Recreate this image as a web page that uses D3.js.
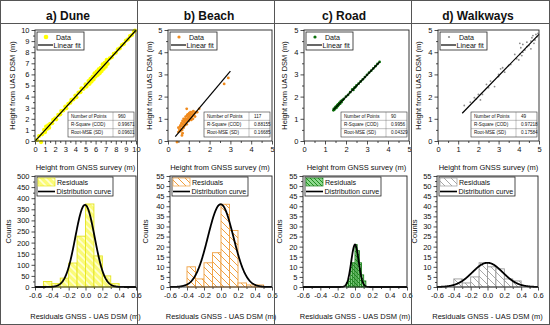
<!DOCTYPE html>
<html><head><meta charset="utf-8">
<script src="https://cdn.jsdelivr.net/npm/d3@7"></script>
<style>
body{margin:0;background:#fff}
svg{display:block}
text{font-family:Arial,"Liberation Sans",sans-serif;fill:#111}
</style>
</head><body>
<svg id="c" width="550" height="325"></svg>
<script>
// ---------------- DATA ----------------
const panelTitles = ["a) Dune", "b) Beach", "c) Road", "d) Walkways"];

const pointsDune = [[0.2,0.1],[0.4,0.45],[0.6,-0.1],[0.7,0.6],[0.9,1.0],[1.0,0.8],[1.1,1.3],[1.2,1.1],[1.3,1.4],[1.4,1.2],[1.5,1.55],[1.7,1.6],[1.8,1.9],[2.0,2.05],[2.1,1.95],[2.3,2.35],[2.5,2.4],[2.6,2.7],[2.8,2.75],[3.0,3.1],[3.1,2.95],[3.3,3.35],[3.5,3.45],[3.6,3.7],[3.8,3.75],[4.0,4.1],[4.1,3.95],[4.3,4.35],[4.5,4.4],[4.6,4.75],[4.8,4.7],[5.0,5.1],[5.1,4.9],[5.3,5.4],[5.4,5.15],[5.5,5.6],[5.6,5.35],[5.7,5.8],[5.8,5.55],[5.9,6.1],[6.0,5.8],[6.1,6.25],[6.2,5.95],[6.3,6.45],[6.4,6.1],[6.5,6.6],[6.6,6.3],[6.7,6.9],[6.8,6.5],[6.9,7.05],[7.0,6.7],[7.1,7.3],[7.2,6.95],[7.4,7.45],[7.6,7.55],[7.8,7.85],[8.0,7.95],[8.2,8.25],[8.4,8.35],[8.6,8.65],[8.8,8.75],[9.0,9.05],[9.2,9.15],[9.4,9.45],[9.6,9.55],[9.8,9.85],[9.9,9.95]];
const pointsBeach = [[0.5,0.6],[0.55,0.5],[0.6,0.7],[0.62,0.55],[0.65,0.8],[0.7,0.65],[0.7,0.9],[0.72,0.75],[0.75,0.6],[0.78,0.85],[0.8,0.95],[0.8,0.7],[0.82,1.0],[0.85,0.8],[0.85,1.1],[0.88,0.9],[0.9,1.0],[0.9,0.75],[0.92,1.15],[0.95,0.95],[0.95,1.2],[0.98,1.05],[1.0,0.9],[1.0,1.1],[1.02,1.25],[1.05,1.0],[1.05,1.15],[1.08,1.3],[1.1,1.05],[1.1,1.2],[1.12,0.95],[1.15,1.1],[1.15,1.3],[1.2,1.2],[1.2,1.0],[1.22,1.35],[1.25,1.15],[1.28,1.25],[1.3,1.1],[1.32,1.3],[0.6,0.45],[0.68,0.5],[0.75,1.0],[0.5,0.4],[0.58,0.65],[0.9,1.45],[0.67,0.25],[0.7,0.35],[0.43,-0.05],[2.7,2.57],[2.9,2.84],[1.4,1.3],[1.5,1.45]];
const pointsRoad = [[1.4,1.38],[1.42,1.45],[1.45,1.42],[1.48,1.5],[1.5,1.47],[1.52,1.55],[1.55,1.5],[1.58,1.6],[1.6,1.57],[1.62,1.65],[1.65,1.62],[1.68,1.7],[1.7,1.72],[1.72,1.68],[1.75,1.78],[1.78,1.75],[1.8,1.82],[1.85,1.85],[1.9,1.9],[2.0,2.0],[2.1,2.08],[2.2,2.2],[2.3,2.32],[2.35,2.3],[2.4,2.4],[2.45,2.43],[2.5,2.5],[2.6,2.58],[2.7,2.68],[2.8,2.78],[2.9,2.88],[3.0,2.98],[3.1,3.08],[3.2,3.17],[3.3,3.27],[3.4,3.37],[3.5,3.47],[3.6,3.56]];
const pointsWalkways = [[1.3,1.6],[1.6,1.75],[1.9,1.9],[2.1,1.85],[2.2,2.1],[2.5,2.4],[2.6,2.7],[2.8,2.45],[3.0,3.0],[3.1,3.25],[3.2,3.3],[3.3,3.1],[3.5,3.4],[3.6,3.45],[3.9,3.7],[4.0,3.65],[4.05,4.4],[4.1,4.2],[4.15,3.85],[4.2,4.0],[4.3,4.1],[4.4,4.25],[4.5,4.3],[4.6,4.5],[4.7,4.75],[4.75,4.4],[4.8,4.55],[4.85,4.8],[4.9,4.7],[4.95,4.85],[4.6,4.15],[4.4,4.45],[3.0,2.9],[2.4,2.55],[1.8,1.95],[2.0,2.1],[3.8,3.9],[4.2,4.35],[4.65,4.65],[4.05,3.9]];

const fitSlope = [1.0, 1.113, 0.98, 0.934];
const fitIntercept = [-0.02, -0.19, 0.03, 0.13];
const fitXRange = [[0.05, 10], [0.35, 3.0], [1.4, 3.6], [1.2, 5.0]];

const statLabels = ["Number of Points", "R-Square (COD)", "Root-MSE (SD)"];
const nPoints = ["960", "117", "90", "49"];
const rSquare = ["0.99671", "0.88155", "0.9956", "0.97218"];
const rootMSE = ["0.09601", "0.16685", "0.04329", "0.17584"];

const histStart = [-0.5, -0.4, -0.1, -0.4];
const histBinWidth = [0.1, 0.1, 0.025, 0.1];
const histDune = [25, 15, 40, 108, 229, 374, 140, 50, 15];
const histBeach = [10, 4, 12, 17, 41, 28, 2, 1, 1];
const histRoad = [2, 4, 12, 12, 21, 18, 12, 6, 3];
const histWalkways = [4, 2, 5, 12, 10, 9, 4, 3];

const curveMean = [-0.006, -0.004, 0.0, 0.0];
const curveSD = [0.115, 0.15, 0.043, 0.18];
const curvePeak = [370, 41, 21, 12];

const scatterTicksDune = [0,1,2,3,4,5,6,7,8,9,10];
const scatterTicksOther = [0,1,2,3,4,5];
const histXTicks = [-0.6,-0.4,-0.2,0.0,0.2,0.4,0.6];
const histXTickLabels = ["-0.6","-0.4","-0.2","0.0","0.2","0.4","0.6"];
const histYTicksDune = [0,50,100,150,200,250,300,350,400,450,500];
const histYTicksOther = [0,5,10,15,20,25,30,35,40,45,50,55];

const scatterLabelX = "Height from GNSS survey (m)";
const scatterLabelY = "Height from UAS DSM (m)";
const histLabelX = "Residuals GNSS - UAS DSM (m)";
const histLabelY = "Counts";
const legendScatter = ["Data", "Linear fit"];
const legendHist = ["Residuals", "Distribution curve"];

// ---------------- STYLE / LAYOUT ----------------
const allPoints = [pointsDune, pointsBeach, pointsRoad, pointsWalkways];
const allHist = [histDune, histBeach, histRoad, histWalkways];
const pointColor = ["#ffff00", "#f08a1c", "#0a6e0a", "#8a8a8a"];
const pointR = [2.1, 1.4, 1.4, 0.9];
const barStroke = ["#e4e420", "#f0a040", "#1f7f1f", "#9a9a9a"];
const hatchBg = ["#fbfb78", "#ffffff", "#8fd88f", "#ffffff"];
const hatchLine = ["#ffffd2", "#f0a040", "#1f8f1f", "#a8a8a8"];
const hatchSize = [7, 7, 4, 7];
const L = [
  {sx:[35,136], hx:[35,136], yt:12, ct:8, title:68},
  {sx:[168,272], hx:[170,272], yt:149, ct:145, title:209},
  {sx:[304,409], hx:[303,407], yt:284, ct:279, title:344},
  {sx:[438,539], hx:[437,538], yt:418, ct:414, title:478}
];
const sTop = 30, sBot = 141, hTop = 176, hBot = 287;
const fs = 7.5, lfs = 7.1;

const svg = d3.select("#c");
const defs = svg.append("defs");
for (let i = 0; i < 4; i++) {
  const s = hatchSize[i];
  const p = defs.append("pattern").attr("id", "h" + i)
    .attr("patternUnits", "userSpaceOnUse").attr("width", s).attr("height", s);
  p.append("rect").attr("width", s).attr("height", s).attr("fill", hatchBg[i]);
  p.append("path").attr("d", `M0,0L${s},${s}M${-s/2},${s/2}L${s/2},${s*1.5}M${s/2},${-s/2}L${s*1.5},${s/2}`)
    .attr("stroke", hatchLine[i]).attr("stroke-width", i === 0 ? 1.6 : 1);
}

function styleAxis(g) {
  g.select(".domain").remove();
  g.selectAll("line").attr("stroke", "#222").attr("stroke-width", 0.8);
  g.selectAll("text").attr("font-size", fs).attr("fill", "#111")
    .style("font-family", "Arial, 'Liberation Sans', sans-serif");
}

function midpoints(t) {
  const m = [];
  for (let k = 0; k < t.length - 1; k++) m.push((t[k] + t[k+1]) / 2);
  return m;
}

for (let i = 0; i < 4; i++) {
  const l = L[i];
  svg.append("text").attr("x", l.title).attr("y", 20).attr("text-anchor", "middle")
    .attr("font-size", 12).attr("font-weight", "bold").attr("fill", "#000").text(panelTitles[i]);

  // ---- scatter ----
  const sTicks = i === 0 ? scatterTicksDune : scatterTicksOther;
  const dom = [sTicks[0], sTicks[sTicks.length - 1]];
  const x = d3.scaleLinear().domain(dom).range(l.sx);
  const y = d3.scaleLinear().domain(dom).range([sBot, sTop]);
  const gS = svg.append("g");

  gS.append("g").attr("transform", `translate(0,${sBot})`)
    .call(d3.axisBottom(x).tickValues(midpoints(sTicks)).tickSize(2).tickFormat("")).call(styleAxis);
  gS.append("g").attr("transform", `translate(0,${sBot})`)
    .call(d3.axisBottom(x).tickValues(sTicks).tickSize(3.5).tickPadding(2).tickFormat(d3.format("d"))).call(styleAxis);
  gS.append("g").attr("transform", `translate(${l.sx[0]},0)`)
    .call(d3.axisLeft(y).tickValues(midpoints(sTicks)).tickSize(2).tickFormat("")).call(styleAxis);
  gS.append("g").attr("transform", `translate(${l.sx[0]},0)`)
    .call(d3.axisLeft(y).tickValues(sTicks).tickSize(3.5).tickPadding(2).tickFormat(d3.format("d"))).call(styleAxis);

  gS.append("g").selectAll("circle").data(allPoints[i]).join("circle")
    .attr("cx", d => x(d[0])).attr("cy", d => y(d[1])).attr("r", pointR[i])
    .attr("fill", pointColor[i]);

  const fx = fitXRange[i];
  gS.append("line").attr("x1", x(fx[0])).attr("y1", y(fitSlope[i]*fx[0] + fitIntercept[i]))
    .attr("x2", x(fx[1])).attr("y2", y(fitSlope[i]*fx[1] + fitIntercept[i]))
    .attr("stroke", "#000").attr("stroke-width", 1.2);

  gS.append("rect").attr("x", l.sx[0]).attr("y", sTop).attr("width", l.sx[1]-l.sx[0]).attr("height", sBot-sTop)
    .attr("fill", "none").attr("stroke", "#222").attr("stroke-width", 0.9);

  // scatter legend
  const lx = l.sx[0] + 2, ly = sTop + 2;
  gS.append("rect").attr("x", lx).attr("y", ly).attr("width", 47).attr("height", 18)
    .attr("fill", "#fff").attr("stroke", "#222").attr("stroke-width", 0.8);
  gS.append("circle").attr("cx", lx + 9).attr("cy", ly + 5).attr("r", pointR[i] + 0.2).attr("fill", pointColor[i]);
  gS.append("text").attr("x", lx + 19).attr("y", ly + 7.5).attr("font-size", lfs).attr("fill", "#000").text(legendScatter[0]);
  gS.append("line").attr("x1", lx + 1).attr("x2", lx + 16).attr("y1", ly + 13).attr("y2", ly + 13)
    .attr("stroke", "#000").attr("stroke-width", 1.2);
  gS.append("text").attr("x", lx + 16.5).attr("y", ly + 15.5).attr("font-size", lfs).attr("fill", "#000").text(legendScatter[1]);

  // stats table
  const tw = 66, th = 25, tx = l.sx[1] - 2 - tw, ty = sBot - 4 - th, cd = 45;
  const tg = gS.append("g");
  tg.append("rect").attr("x", tx).attr("y", ty).attr("width", tw).attr("height", th)
    .attr("fill", "#fff").attr("stroke", "#333").attr("stroke-width", 0.6);
  const vals = [nPoints[i], rSquare[i], rootMSE[i]];
  for (let r = 0; r < 3; r++) {
    if (r > 0) tg.append("line").attr("x1", tx).attr("x2", tx + tw)
      .attr("y1", ty + r*th/3).attr("y2", ty + r*th/3).attr("stroke", "#666").attr("stroke-width", 0.4);
    tg.append("text").attr("x", tx + 3).attr("y", ty + r*th/3 + 5.6).attr("font-size", 4.6).attr("fill", "#000").text(statLabels[r]);
    tg.append("text").attr("x", tx + cd + 5).attr("y", ty + r*th/3 + 5.6).attr("font-size", 4.6).attr("fill", "#000").text(vals[r]);
  }
  tg.append("line").attr("x1", tx + cd).attr("x2", tx + cd).attr("y1", ty).attr("y2", ty + th)
    .attr("stroke", "#666").attr("stroke-width", 0.4);

  // axis titles
  svg.append("text").attr("x", (l.sx[0]+l.sx[1])/2).attr("y", 170).attr("text-anchor", "middle")
    .attr("font-size", fs).attr("fill", "#111").text(scatterLabelX);
  svg.append("text").attr("transform", `translate(${l.yt + 2.5},${(sTop+sBot)/2}) rotate(-90)`)
    .attr("text-anchor", "middle").attr("font-size", fs).attr("fill", "#111").text(scatterLabelY);

  // ---- histogram ----
  const hyT = i === 0 ? histYTicksDune : histYTicksOther;
  const hx = d3.scaleLinear().domain([-0.6, 0.6]).range(l.hx);
  const hy = d3.scaleLinear().domain([0, hyT[hyT.length-1]]).range([hBot, hTop]);
  const gH = svg.append("g");

  gH.append("g").attr("transform", `translate(0,${hBot})`)
    .call(d3.axisBottom(hx).tickValues(midpoints(histXTicks)).tickSize(2).tickFormat("")).call(styleAxis);
  gH.append("g").attr("transform", `translate(0,${hBot})`)
    .call(d3.axisBottom(hx).tickValues(histXTicks).tickSize(3.5).tickPadding(2)
      .tickFormat((d, k) => histXTickLabels[k])).call(styleAxis);
  gH.append("g").attr("transform", `translate(${l.hx[0]},0)`)
    .call(d3.axisLeft(hy).tickValues(midpoints(hyT)).tickSize(2).tickFormat("")).call(styleAxis);
  gH.append("g").attr("transform", `translate(${l.hx[0]},0)`)
    .call(d3.axisLeft(hy).tickValues(hyT).tickSize(3.5).tickPadding(2).tickFormat(d3.format("d"))).call(styleAxis);

  const bins = allHist[i].map((c, k) => ({x0: histStart[i] + k*histBinWidth[i], x1: histStart[i] + (k+1)*histBinWidth[i], c}));
  gH.append("g").selectAll("rect").data(bins.filter(b => b.c > 0)).join("rect")
    .attr("x", b => hx(b.x0)).attr("width", b => hx(b.x1) - hx(b.x0))
    .attr("y", b => hy(b.c)).attr("height", b => hBot - hy(b.c))
    .attr("fill", `url(#h${i})`).attr("stroke", barStroke[i]).attr("stroke-width", 0.9);

  const cx = d3.range(-0.6, 0.6001, 0.004);
  const line = d3.line().x(d => hx(d)).y(d => hy(curvePeak[i] * Math.exp(-((d - curveMean[i])**2) / (2*curveSD[i]**2))));
  gH.append("path").attr("d", line(cx)).attr("fill", "none").attr("stroke", "#000").attr("stroke-width", 1.8);

  gH.append("rect").attr("x", l.hx[0]).attr("y", hTop).attr("width", l.hx[1]-l.hx[0]).attr("height", hBot-hTop)
    .attr("fill", "none").attr("stroke", "#222").attr("stroke-width", 0.9);

  // hist legend
  const gx = l.hx[0] + 2, gy = hTop + 1;
  gH.append("rect").attr("x", gx).attr("y", gy).attr("width", 76).attr("height", 19)
    .attr("fill", "#fff").attr("stroke", "#222").attr("stroke-width", 0.8);
  gH.append("rect").attr("x", gx + 1).attr("y", gy + 1).attr("width", 17).attr("height", 8)
    .attr("fill", `url(#h${i})`).attr("stroke", barStroke[i]).attr("stroke-width", 0.7);
  gH.append("text").attr("x", gx + 20).attr("y", gy + 8).attr("font-size", lfs).attr("fill", "#000").text(legendHist[0]);
  gH.append("line").attr("x1", gx + 1).attr("x2", gx + 18).attr("y1", gy + 14.5).attr("y2", gy + 14.5)
    .attr("stroke", "#000").attr("stroke-width", 1.6);
  gH.append("text").attr("x", gx + 19.5).attr("y", gy + 17).attr("font-size", lfs).attr("fill", "#000").text(legendHist[1]);

  svg.append("text").attr("x", (l.hx[0]+l.hx[1])/2).attr("y", 318.5).attr("text-anchor", "middle")
    .attr("font-size", fs).attr("fill", "#111").text(histLabelX);
  svg.append("text").attr("transform", `translate(${l.ct + 2.5},${(hTop+hBot)/2}) rotate(-90)`)
    .attr("text-anchor", "middle").attr("font-size", fs).attr("fill", "#111").text(histLabelY);
}

// frame & separators
svg.append("rect").attr("x", 0.5).attr("y", 0.5).attr("width", 549).attr("height", 324)
  .attr("fill", "none").attr("stroke", "#555").attr("stroke-width", 1);
svg.append("line").attr("x1", 0).attr("x2", 550).attr("y1", 23.5).attr("y2", 23.5)
  .attr("stroke", "#555").attr("stroke-width", 1);
[137.5, 274.5, 411.5].forEach(v => svg.append("line").attr("x1", v).attr("x2", v).attr("y1", 0).attr("y2", 325)
  .attr("stroke", "#555").attr("stroke-width", 1));
</script>
</body></html>
